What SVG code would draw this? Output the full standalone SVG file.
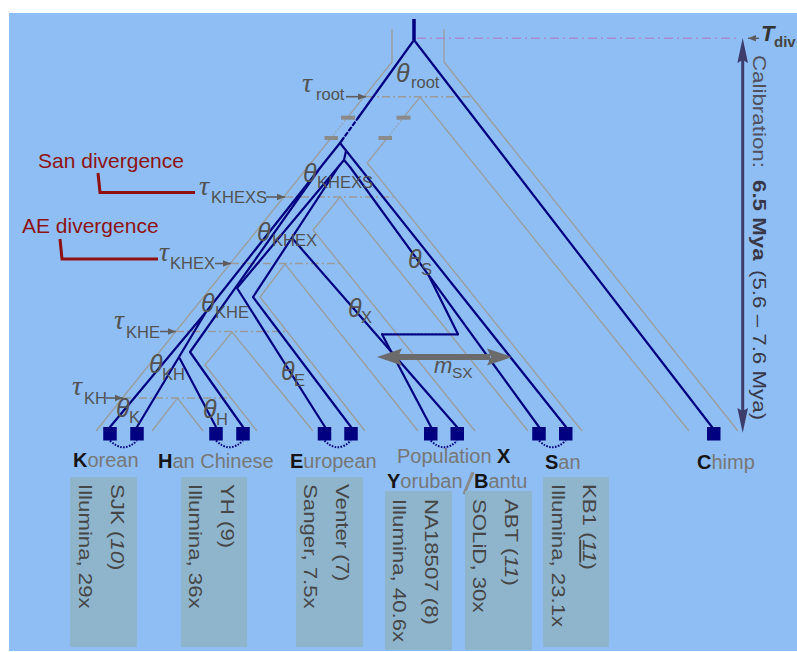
<svg xmlns="http://www.w3.org/2000/svg" width="797" height="652" viewBox="0 0 797 652">
<defs>
<style>
text{font-family:"Liberation Sans",Arial,sans-serif}
.tube{fill:none;stroke:#9c9c9c;stroke-width:1.3}
.tdot{fill:none;stroke:#9c9c9c;stroke-width:1.3;stroke-dasharray:1.5 2}
.gene{fill:none;stroke:#000080;stroke-width:2.2;stroke-linejoin:round;stroke-linecap:round}
.tau{stroke:#9a9a9a;stroke-width:1.6;stroke-dasharray:8 3 2 3;fill:none}
.arr{stroke:#5e5e5e;stroke-width:1.6;marker-end:url(#ah)}
.gr{font-family:"Liberation Serif","Times New Roman",serif;font-style:italic;font-size:28px;fill:#525252}
.th{font-style:italic;font-size:25px;fill:#525252}
.sub{font-size:16.5px;fill:#525252}
.red{font-size:21px;fill:#8e1414}
.redl{fill:none;stroke:#8e1010;stroke-width:3}
.pop{font-size:20px;fill:#777}
.b{font-weight:bold;fill:#151515}
.box{fill:#8FB5CD}
.bt{font-size:19px;fill:#464646}
.sq{fill:#000080}
.arc{fill:none;stroke:#000080;stroke-width:2;stroke-dasharray:1.6 1.4}
.tick{stroke:#8a8a8a;stroke-width:4}
</style>
<marker id="ah" viewBox="0 0 10 10" refX="10" refY="5" markerWidth="8" markerHeight="8" markerUnits="userSpaceOnUse" orient="auto"><path d="M0,1 L10,5 L0,9 z" fill="#5e5e5e"/></marker>
</defs>
<rect width="797" height="652" fill="#ffffff"/>
<rect x="9" y="13" width="788" height="638" fill="#8FBEF5"/>

<g id="population-tubes">
<path class="tube" d="M392,29 V62 L347.3,117.7 M331,138 L96,431"/>
<path class="tdot" d="M347.3,117.7 L331,138"/>
<path class="tube" d="M444,29 V62 L738,431"/>
<path class="tube" d="M689,431 L420,97 L403.4,117.7 M387.2,138 L367.2,163 L582,431"/>
<path class="tdot" d="M403.4,117.7 L387.2,138"/>
<path class="tube" d="M528,431 L340,197 L313,230 L475,431"/>
<path class="tube" d="M418,431 L285,264 L260,297 L365,431"/>
<path class="tube" d="M313,431 L232,332 L205,365 L257,431"/>
<path class="tube" d="M152,431 L177.5,398 L203,431"/>
<line class="tick" x1="341" y1="117.7" x2="355" y2="117.7"/>
<line class="tick" x1="396.5" y1="117.7" x2="410.5" y2="117.7"/>
<line class="tick" x1="324.5" y1="138" x2="338" y2="138"/>
<line class="tick" x1="378.5" y1="138" x2="392" y2="138"/>
</g>

<g id="time-lines">
<line class="tau" x1="366" y1="96.7" x2="472" y2="96.7"/>
<line class="tau" x1="285" y1="197" x2="393" y2="197"/>
<line class="tau" x1="231" y1="263.5" x2="340" y2="263.5"/>
<line class="tau" x1="176" y1="331.5" x2="288" y2="331.5"/>
<line class="tau" x1="123" y1="398" x2="231" y2="398"/>
<line x1="417" y1="38.3" x2="738" y2="38.3" stroke="#a88ad2" stroke-width="1.5" stroke-dasharray="9 4 2 4"/>
<line class="arr" x1="346" y1="96.7" x2="366" y2="96.7"/>
<line class="arr" x1="266" y1="197" x2="285" y2="197"/>
<line class="arr" x1="215" y1="263.5" x2="231" y2="263.5"/>
<line class="arr" x1="160" y1="331.5" x2="176" y2="331.5"/>
<line class="arr" x1="106" y1="398" x2="123" y2="398"/>
</g>

<g id="connectors">
<line x1="414" y1="19" x2="414" y2="40" stroke="#000080" stroke-width="3.5"/>
<path class="gene" d="M414,40 L712,427"/>
<path class="gene" d="M414,40 L358.7,117 M343.6,138 L340,143"/>
<path class="gene" d="M358.7,117 L343.6,138" stroke-dasharray="3.5 3" stroke-linecap="butt"/>
<path class="gene" d="M340,143 L566,427"/>
<path class="gene" d="M346,151 L344,160 L339,166 M344,160 L350,167 L539,427"/>
<path class="gene" d="M428.5,275 L458,334.3"/>
<path class="gene" d="M458,334.3 L382,334.3" stroke-dasharray="2 1.5" stroke-linecap="butt"/>
<path class="gene" d="M382,334.3 L431,427"/>
<path class="gene" d="M340,143 L320,168 L206,312 L110,427 M206,312 L137,427 M179,357 L216,427 M320,168 L190,352 L243,427"/>
<path class="gene" d="M339,166 L253,297 L351,427 M339,166 L237,288 L325,427 M292,238 L457,427"/>
<g fill="#6b6b6b">
<rect x="395" y="354" width="95" height="6"/>
<path d="M377,357 L402,348.5 L398,357 L402,365.5 Z"/>
<path d="M512,357 L487,348.5 L491,357 L487,365.5 Z"/>
</g>
</g>

<g id="param-labels">
<text class="th" x="396" y="82">θ</text><text class="sub" x="411" y="88">root</text>
<text class="th" x="303" y="182">θ</text><text class="sub" x="317" y="188">KHEXS</text>
<text class="th" x="257" y="241">θ</text><text class="sub" x="272" y="246">KHEX</text>
<text class="th" x="201" y="312">θ</text><text class="sub" x="215" y="318">KHE</text>
<text class="th" x="149" y="373">θ</text><text class="sub" x="162" y="380">KH</text>
<text class="th" x="116" y="417">θ</text><text class="sub" x="129" y="423">K</text>
<text class="th" x="203" y="418">θ</text><text class="sub" x="216" y="425">H</text>
<text class="th" x="281" y="380">θ</text><text class="sub" x="294" y="386">E</text>
<text class="th" x="348" y="317">θ</text><text class="sub" x="361" y="323">X</text>
<text class="th" x="408" y="268">θ</text><text class="sub" x="421" y="275">S</text>
<text class="gr" x="302" y="92">τ</text><text class="sub" x="316" y="100">root</text>
<text class="gr" x="199" y="195">τ</text><text class="sub" x="211" y="203">KHEXS</text>
<text class="gr" x="159" y="261">τ</text><text class="sub" x="170" y="269">KHEX</text>
<text class="gr" x="114" y="329">τ</text><text class="sub" x="126" y="337.5">KHE</text>
<text class="gr" x="72" y="395">τ</text><text class="sub" x="84" y="404">KH</text>
<text x="434" y="373" font-size="22" font-style="italic" fill="#525252">m</text><text x="452" y="378" font-size="15.5" fill="#525252">SX</text>
</g>

<g id="divergence-notes">
<text class="red" x="38" y="168">San divergence</text>
<path class="redl" d="M98,173 L100,192.5 L195,192.5"/>
<text class="red" x="22" y="233">AE divergence</text>
<path class="redl" d="M60,239 L62,259 L158,259"/>
</g>

<g id="calibration">
<line x1="742.7" y1="58" x2="742.7" y2="413" stroke="#3d3d6c" stroke-width="3"/>
<path d="M742.7,38 L748,63 L742.7,60 L737.4,63 Z" fill="#3d3d6c"/>
<path d="M742.7,433 L748,408 L742.7,411 L737.4,408 Z" fill="#3d3d6c"/>
<line x1="759" y1="38.3" x2="748" y2="38.3" stroke="#555" stroke-width="1.3" marker-end="url(#ah)"/>
<text x="761" y="41" font-weight="bold" font-style="italic" font-size="22" fill="#333">T</text>
<text x="774" y="47" font-weight="bold" font-size="15" fill="#444">div</text>
<text transform="translate(753,55) rotate(90) scale(1.176,1)" font-size="19"><tspan x="0" y="0" fill="#50505e">Calibration:</tspan><tspan x="106.3" y="0" font-weight="bold" fill="#383848">6.5 Mya</tspan><tspan x="182.8" y="0" fill="#383848">(5.6 – 7.6 Mya)</tspan></text>
</g>

<g id="node-korean">
<rect class="sq" x="103.25" y="427" width="13.5" height="13.5"/>
<rect class="sq" x="130.25" y="427" width="13.5" height="13.5"/>
<path class="arc" d="M110,440.5 Q123.5,454 137,440.5"/>
<text class="pop" x="73" y="467"><tspan class="b">K</tspan>orean</text>
<rect class="box" x="70" y="477" width="67" height="170"/>
<text class="bt" transform="translate(111,484) rotate(90) scale(1.17,1)">SJK (<tspan font-style="italic">10</tspan>)</text>
<text class="bt" transform="translate(78.5,484) rotate(90) scale(1.17,1)">Illumina, 29x</text>
</g>

<g id="node-han">
<rect class="sq" x="209.25" y="427" width="13.5" height="13.5"/>
<rect class="sq" x="236.25" y="427" width="13.5" height="13.5"/>
<path class="arc" d="M216,440.5 Q229.5,454 243,440.5"/>
<text class="pop" x="158" y="468"><tspan class="b">H</tspan>an Chinese</text>
<rect class="box" x="181" y="477" width="66" height="170"/>
<text class="bt" transform="translate(221,484) rotate(90) scale(1.17,1)">YH (9)</text>
<text class="bt" transform="translate(189,484) rotate(90) scale(1.17,1)">Illumina, 36x</text>
</g>

<g id="node-european">
<rect class="sq" x="317.75" y="427" width="13.5" height="13.5"/>
<rect class="sq" x="344.25" y="427" width="13.5" height="13.5"/>
<path class="arc" d="M324.5,440.5 Q337.75,454 351,440.5"/>
<text class="pop" x="290" y="468"><tspan class="b">E</tspan>uropean</text>
<rect class="box" x="296" y="477" width="67" height="170"/>
<text class="bt" transform="translate(336,484) rotate(90) scale(1.17,1)">Venter (7)</text>
<text class="bt" transform="translate(303.5,484) rotate(90) scale(1.17,1)">Sanger, 7.5x</text>
</g>

<g id="node-population-x">
<rect class="sq" x="424" y="427" width="13.5" height="13.5"/>
<rect class="sq" x="450.5" y="427" width="13.5" height="13.5"/>
<path class="arc" d="M430.7,440.5 Q444,454 457.3,440.5"/>
<text class="pop" x="397" y="463">Population <tspan class="b">X</tspan></text>
<text class="pop" x="387" y="488"><tspan class="b">Y</tspan>oruban</text>
<line x1="464" y1="494" x2="473" y2="472" stroke="#8a8a8a" stroke-width="3"/>
<text class="pop" x="474" y="488"><tspan class="b">B</tspan>antu</text>
<rect class="box" x="385" y="491" width="67" height="159"/>
<text class="bt" transform="translate(425,499) rotate(90) scale(1.17,1)">NA18507 (8)</text>
<text class="bt" transform="translate(392.5,499) rotate(90) scale(1.17,1)">Illumina, 40.6x</text>
<rect class="box" x="465" y="491" width="67" height="159"/>
<text class="bt" transform="translate(505,499) rotate(90) scale(1.17,1)">ABT (<tspan font-style="italic">11</tspan>)</text>
<text class="bt" transform="translate(473,499) rotate(90) scale(1.17,1)">SOLiD, 30x</text>
</g>

<g id="node-san">
<rect class="sq" x="532.25" y="427" width="13.5" height="13.5"/>
<rect class="sq" x="559" y="427" width="13.5" height="13.5"/>
<path class="arc" d="M539,440.5 Q552.3,454 565.7,440.5"/>
<text class="pop" x="545" y="469"><tspan class="b">S</tspan>an</text>
<rect class="box" x="543" y="477" width="66" height="170"/>
<text class="bt" transform="translate(583,484) rotate(90) scale(1.17,1)">KB1 (<tspan font-style="italic" text-decoration="underline">11</tspan>)</text>
<text class="bt" transform="translate(552,484) rotate(90) scale(1.17,1)">Illumina, 23.1x</text>
</g>

<g id="node-chimp">
<rect class="sq" x="707" y="427" width="13.5" height="13.5"/>
<text class="pop" x="697" y="469"><tspan class="b">C</tspan>himp</text>
</g>
</svg>
